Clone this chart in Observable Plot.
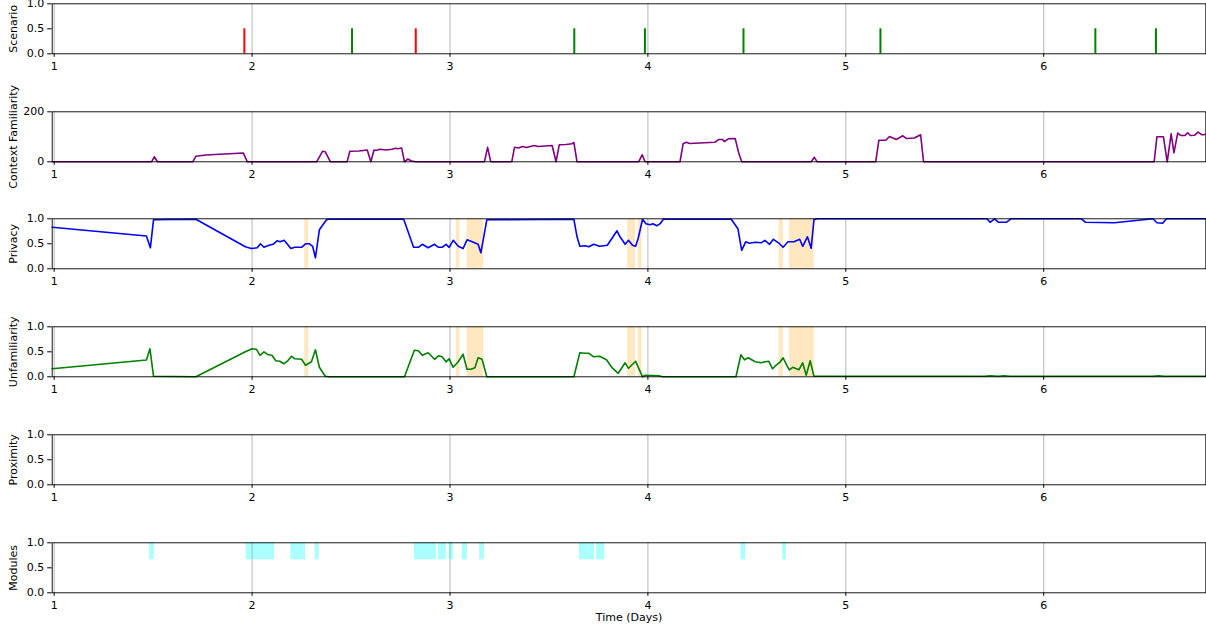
<!DOCTYPE html>
<html><head><meta charset="utf-8">
<script src="https://cdn.jsdelivr.net/npm/d3@7"></script>
<script src="https://cdn.jsdelivr.net/npm/@observablehq/plot@0.6"></script>
<style>
body{margin:0;background:#fff;}
#chart{position:relative;width:1206px;height:631px;font-family:"DejaVu Sans",sans-serif;overflow:hidden;}
#chart svg{position:absolute;left:0;}
</style></head><body><div id="chart"></div>
<script>
const xDomain = [0.99, 6.819];
const xTicks = [1, 2, 3, 4, 5, 6];
const unitTicks = [0, 0.5, 1];
const familiarityTicks = [0, 200];

const scenarioTimes = [1.961, 2.505, 2.827, 3.628, 3.985, 4.483, 5.175, 6.261, 6.567];
const scenarioColors = ["red", "green", "red", "green", "green", "green", "green", "green", "green"];
const scenarioValue = 0.5;

const familiarityTimes = [0.99,1.492,1.506,1.522,1.70,1.716,1.766,1.956,1.976,2.326,2.356,2.37,2.396,2.48,2.494,2.54,2.582,2.60,2.616,2.626,2.646,2.676,2.706,2.726,2.736,2.756,2.77,2.786,2.806,2.826,3.174,3.19,3.206,3.312,3.326,3.346,3.366,3.386,3.426,3.446,3.516,3.536,3.552,3.586,3.616,3.626,3.642,3.953,3.971,3.986,4.162,4.178,4.195,4.211,4.338,4.357,4.377,4.386,4.406,4.441,4.459,4.474,4.825,4.841,4.855,5.151,5.167,5.202,5.221,5.255,5.288,5.307,5.346,5.378,5.393,6.558,6.572,6.605,6.624,6.644,6.658,6.677,6.693,6.712,6.728,6.741,6.761,6.780,6.800,6.816];
const familiarityValues = [0,0,20,0,0,22,27,35,0,0,42,40,0,0,42,43,47,0,47,45,50,47,50,54,52,55,0,11,3,0,0,58,0,0,58,55,61,57,65,61,65,0,68,69,72,77,0,0,28,0,0,72,78,73,78,89,89,81,92,93,35,0,0,18,0,0,86,86,101,89,104,93,95,108,0,0,100,100,0,112,36,115,105,105,116,105,106,119,108,109];

const privacyTimes = [0.99,1.466,1.486,1.502,1.716,1.966,1.996,2.026,2.042,2.06,2.086,2.106,2.126,2.142,2.162,2.196,2.216,2.25,2.27,2.29,2.306,2.32,2.34,2.376,2.386,2.766,2.816,2.84,2.86,2.89,2.922,2.942,2.96,2.98,2.996,3.016,3.042,3.066,3.086,3.106,3.142,3.156,3.186,3.626,3.642,3.656,3.682,3.702,3.726,3.756,3.795,3.844,3.859,3.885,3.902,3.922,3.938,3.951,3.973,3.990,4.012,4.025,4.045,4.064,4.078,4.421,4.455,4.474,4.494,4.513,4.542,4.572,4.591,4.615,4.634,4.660,4.683,4.708,4.738,4.767,4.782,4.806,4.825,4.839,4.855,5.713,5.729,5.752,5.772,5.811,5.834,6.191,6.211,6.357,6.552,6.572,6.601,6.620,6.819];
const privacyValues = [0.83,0.655,0.42,0.98,0.99,0.44,0.405,0.42,0.50,0.43,0.47,0.49,0.56,0.54,0.57,0.405,0.43,0.43,0.50,0.50,0.45,0.22,0.78,0.98,0.99,0.99,0.43,0.43,0.49,0.42,0.49,0.43,0.43,0.49,0.43,0.57,0.45,0.405,0.58,0.55,0.49,0.32,0.98,0.99,0.64,0.45,0.46,0.44,0.49,0.45,0.47,0.76,0.64,0.49,0.57,0.47,0.45,0.61,0.99,0.90,0.88,0.90,0.86,0.91,0.99,0.99,0.80,0.37,0.54,0.51,0.53,0.52,0.57,0.49,0.59,0.52,0.43,0.54,0.54,0.59,0.45,0.64,0.41,0.98,1.0,1.0,0.93,1.0,0.93,0.93,1.0,1.0,0.93,0.92,1.0,0.92,0.91,1.0,1.0];

const unfamTimes = [0.99,1.466,1.484,1.502,1.716,1.966,2.0,2.022,2.04,2.06,2.082,2.10,2.12,2.14,2.16,2.18,2.20,2.216,2.25,2.27,2.30,2.32,2.34,2.37,2.386,2.77,2.82,2.84,2.86,2.89,2.922,2.942,2.96,2.98,2.996,3.016,3.042,3.066,3.086,3.106,3.126,3.142,3.162,3.186,3.626,3.656,3.682,3.702,3.726,3.756,3.791,3.817,3.85,3.885,3.902,3.938,3.973,3.986,4.055,4.074,4.445,4.470,4.488,4.507,4.542,4.572,4.591,4.611,4.630,4.650,4.669,4.683,4.714,4.732,4.763,4.782,4.80,4.820,4.839,5.70,5.73,5.77,5.80,5.83,6.2,6.55,6.58,6.61,6.819];
const unfamValues = [0.16,0.335,0.56,0.01,0.0,0.50,0.56,0.55,0.43,0.50,0.44,0.43,0.32,0.31,0.26,0.32,0.41,0.36,0.35,0.23,0.30,0.54,0.19,0.01,0.0,0.0,0.53,0.52,0.43,0.48,0.35,0.42,0.40,0.30,0.36,0.19,0.30,0.45,0.15,0.15,0.18,0.38,0.35,0.0,0.0,0.48,0.47,0.47,0.40,0.41,0.34,0.19,0.07,0.28,0.17,0.31,0.0,0.03,0.02,0.0,0.0,0.44,0.34,0.38,0.30,0.28,0.30,0.31,0.16,0.24,0.30,0.38,0.14,0.19,0.14,0.28,0.03,0.32,0.01,0.01,0.02,0.01,0.02,0.01,0.01,0.01,0.02,0.01,0.01];

const alertStarts = [2.266, 3.032, 3.086, 3.898, 3.951, 4.663, 4.716];
const alertEnds   = [2.286, 3.050, 3.170, 3.938, 3.971, 4.685, 4.841];

const moduleStarts = [1.482, 1.970, 2.196, 2.318, 2.820, 2.942, 2.996, 3.062, 3.150, 3.654, 3.740, 4.470, 4.681];
const moduleEnds   = [1.506, 2.114, 2.270, 2.340, 2.932, 2.982, 3.018, 3.088, 3.174, 3.730, 3.782, 4.494, 4.700];
const moduleLow = 0.66, moduleHigh = 1.0;

const panelLabels = ["Scenario", "Context Familiarity", "Privacy", "Unfamiliarity", "Proximity", "Modules"];
const xLabel = "Time (Days)";

const zip = (ts, vs) => ts.map((t, i) => ({t, v: vs[i]}));
const spans = (s, e) => s.map((a, i) => ({s: a, e: e[i]}));
const fmt1 = d3.format(".1f");

const chart = document.getElementById("chart");
const step = 107.7;

function panel(i, cfg) {
  const last = i === 5;
  const top = i * step;
  const height = last ? 631 - top : 108;
  const mt = 3.3, fh = 50;
  const marks = [
    Plot.ruleX(xTicks, {stroke: "#b0b0b0", strokeWidth: 0.9}),
    ...(cfg.marks || []),
    Plot.axisX({ticks: xTicks, tickSize: 3.5, tickPadding: 5, tickFormat: d => String(d), label: null, fontSize: 11}),
    Plot.axisY({ticks: cfg.yTicks, tickSize: 4.5, tickPadding: 3.5, tickFormat: cfg.yFormat, label: null, fontSize: 11}),
    Plot.frame({stroke: "black", strokeWidth: 0.9}),
    Plot.text([panelLabels[i]], {frameAnchor: "left", rotate: -90, dx: -39, textAnchor: "middle", text: d => d, fontSize: 11, fill: "black"})
  ];
  if (last) marks.push(Plot.text([xLabel], {frameAnchor: "bottom", dy: 28, text: d => d, fontSize: 11, fill: "black"}));
  const svg = Plot.plot({
    width: 1206, height,
    marginLeft: 51.7, marginRight: 0.7, marginTop: mt, marginBottom: height - mt - fh,
    style: {fontFamily: "DejaVu Sans, sans-serif", fontSize: "11px", color: "black", background: "transparent", overflow: "visible"},
    x: {domain: xDomain},
    y: {domain: cfg.yDomain},
    color: {type: "identity"},
    marks
  });
  svg.style.top = top + "px";
  chart.appendChild(svg);
}

panel(0, {yDomain: [0, 1], yTicks: unitTicks, yFormat: fmt1, marks: [
  Plot.ruleX(scenarioTimes.map((t, k) => ({t, c: scenarioColors[k]})), {x: "t", y1: 0, y2: scenarioValue, stroke: "c", strokeWidth: 2})
]});
panel(1, {yDomain: [0, 200], yTicks: familiarityTicks, yFormat: d3.format("d"), marks: [
  Plot.line(zip(familiarityTimes, familiarityValues), {x: "t", y: "v", stroke: "purple", strokeWidth: 1.6})
]});
panel(2, {yDomain: [0, 1], yTicks: unitTicks, yFormat: fmt1, marks: [
  Plot.rect(spans(alertStarts, alertEnds), {x1: "s", x2: "e", y1: 0, y2: 1, fill: "orange", fillOpacity: 0.25}),
  Plot.line(zip(privacyTimes, privacyValues), {x: "t", y: "v", stroke: "blue", strokeWidth: 1.6})
]});
panel(3, {yDomain: [0, 1], yTicks: unitTicks, yFormat: fmt1, marks: [
  Plot.rect(spans(alertStarts, alertEnds), {x1: "s", x2: "e", y1: 0, y2: 1, fill: "orange", fillOpacity: 0.25}),
  Plot.line(zip(unfamTimes, unfamValues), {x: "t", y: "v", stroke: "green", strokeWidth: 1.6})
]});
panel(4, {yDomain: [0, 1], yTicks: unitTicks, yFormat: fmt1, marks: []});
panel(5, {yDomain: [0, 1], yTicks: unitTicks, yFormat: fmt1, marks: [
  Plot.rect(spans(moduleStarts, moduleEnds), {x1: "s", x2: "e", y1: moduleLow, y2: moduleHigh, fill: "cyan", fillOpacity: 0.33})
]});
</script></body></html>
